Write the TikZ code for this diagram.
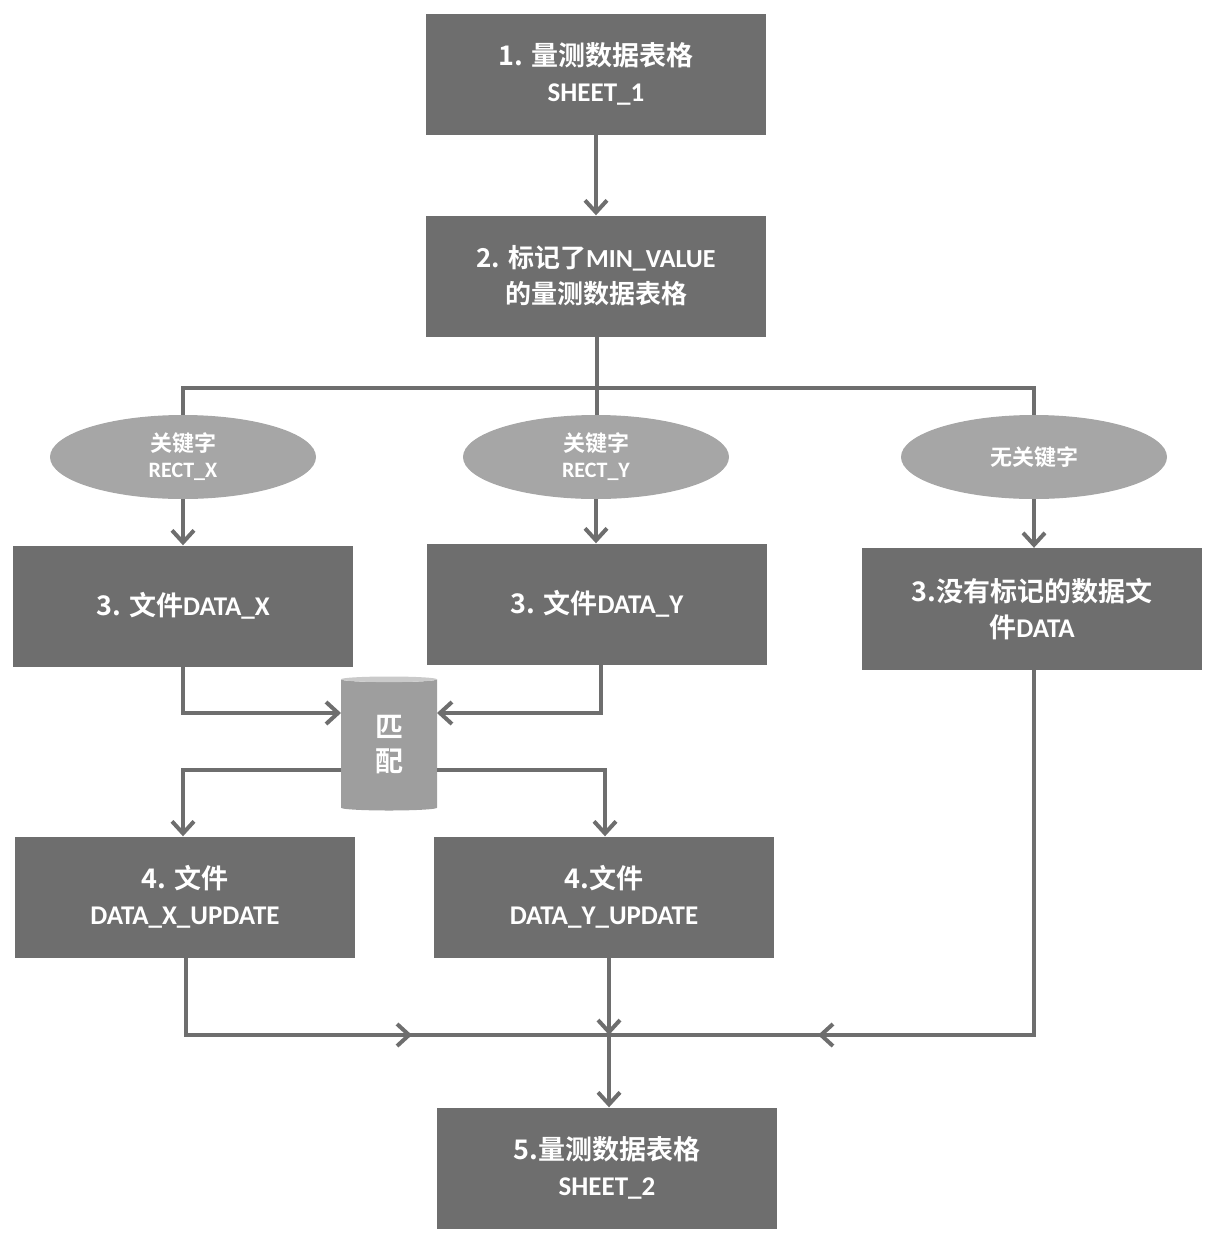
\documentclass[tikz,border=0pt]{standalone}
\usepackage{fontspec}
\setmainfont{Carlito}
\newfontfamily\zhf{Noto Sans CJK SC}[BoldFont={Noto Sans CJK SC Bold}]
\newcommand{\zh}[1]{{\zhf\bfseries #1}}
\usetikzlibrary{arrows.meta,shapes.geometric}
\definecolor{boxg}{HTML}{6E6E6E}
\definecolor{ellg}{HTML}{A6A6A6}
\definecolor{lineg}{HTML}{6E6E6E}
\begin{document}
\begin{tikzpicture}[x=1pt,y=-1pt,
 box/.style={rectangle,fill=boxg,text=white,font=\bfseries\fontsize{27}{36}\selectfont,align=center,minimum width=340,minimum height=121,inner sep=2pt},
 ell/.style={ellipse,fill=ellg,text=white,font=\bfseries\fontsize{22}{26}\selectfont,align=center,minimum width=266,minimum height=84,inner sep=0pt},
 ln/.style={draw=lineg,line width=4pt},
 ar/.style={ln,-{Straight Barb[length=12pt,width=22pt,line width=4pt]}},
 mid/.style={ln,postaction={decorate}}]
\useasboundingbox (0,0) rectangle (1215,1243);
% connectors behind ellipses
\coordinate (sp) at (597,388);
\draw[ln] (597,336) -- (sp);
\draw[ln] (183,420) -- (183,388) -- (1034,388) -- (1034,420);
\draw[ln] (597,388) -- (597,420);
\node[box] (b1) at (596,74) {\zh{1. 量测数据表格}\\SHEET\_1};
\node[box,font=\bfseries\fontsize{26}{36}\selectfont] (b2) at (596,276) {\zh{2. 标记了}MIN\_VALUE\\\zh{的量测数据表格}};
\node[ell] (e1) at (183,457) {\zh{关键字}\\RECT\_X};
\node[ell] (e2) at (596,457) {\zh{关键字}\\RECT\_Y};
\node[ell] (e3) at (1034,457) {\zh{无关键字}};
\node[box] (b3x) at (183,606) {\zh{3. 文件}DATA\_X};
\node[box] (b3y) at (597,604) {\zh{3. 文件}DATA\_Y};
\node[box,minimum height=122] (b3d) at (1032,609) {\zh{3.没有标记的数据文}\\\zh{件}DATA};
\node[cylinder,shape border rotate=90,aspect=0.2,minimum width=96,minimum height=134,draw=none,
 cylinder uses custom fill,cylinder body fill=ellg!95!black,cylinder end fill=ellg!60!white,
 text=white,font=\fontsize{28}{34}\selectfont,align=center,inner sep=0pt] (cyl) at (389,745) {\zh{匹}\\\zh{配}};
\node[box] (b4x) at (185,897) {\zh{4. 文件}\\DATA\_X\_UPDATE};
\node[box] (b4y) at (604,897) {\zh{4.文件}\\DATA\_Y\_UPDATE};
\node[box] (b5) at (607,1168) {\zh{5.量测数据表格}\\SHEET\_2};
\coordinate (j) at (609,1035);
\draw[ar] (b1.south) -- (b2.north);
\draw[ar] (e1.south) -- (b3x.north -| e1.south);
\draw[ar] (e2.south) -- (b3y.north -| e2.south);
\draw[ar] (e3.south) -- (b3d.north -| e3.south);
\draw[ar] (183,666) -- (183,713) -- (341,713);
\draw[ar] (601,664) -- (601,713) -- (437,713);
\draw[ar] (341,770) -- (183,770) -- (b4x.north -| 183,0);
\draw[ar] (437,770) -- (605,770) -- (b4y.north -| 605,0);
\draw[ln] (186,958) -- (186,1035) -- (j);
\draw[ar] (186,1035) -- (412,1035);
\draw[ln] (1034,670) -- (1034,1035) -- (j);
\draw[ar] (1034,1035) -- (818,1035);
\draw[ar] (609,958) -- (j);
\draw[ar] (j) -- (b5.north -| j);
\end{tikzpicture}
\end{document}
